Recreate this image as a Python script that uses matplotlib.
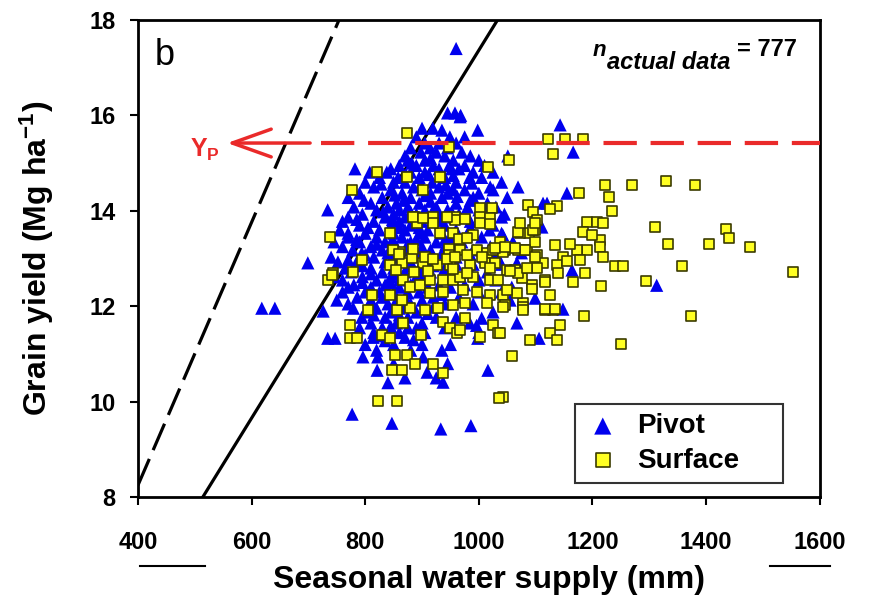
import matplotlib
matplotlib.use('Agg')
import matplotlib.pyplot as plt

plt.rcParams['font.family'] = ['Liberation Sans', 'DejaVu Sans']
plt.rcParams['mathtext.fontset'] = 'custom'
plt.rcParams['mathtext.rm'] = 'Liberation Sans'
plt.rcParams['mathtext.bf'] = 'Liberation Sans:bold'
plt.rcParams['mathtext.it'] = 'Liberation Sans:italic'

### Pivot irrigated fields (seasonal water supply mm, grain yield Mg/ha)
pivot = [
    (960, 17.4), (945, 16.05), (958, 16.05), (968, 16.0), (967, 15.97), (1143, 15.8),
    (900, 15.73), (919, 15.73), (998, 15.69), (935, 15.69), (949, 15.55), (890, 15.55),
    (975, 15.55), (905, 15.42), (930, 15.42), (960, 15.42), (914, 15.32), (880, 15.32),
    (945, 15.32), (1166, 15.23), (970, 15.23), (898, 15.23), (925, 15.23), (1051, 15.15),
    (870, 15.15), (940, 15.15), (985, 15.15), (875, 15.06), (905, 15.06), (955, 15.06),
    (1000, 15.06), (860, 14.95), (890, 14.95), (920, 14.95), (948, 14.95), (975, 14.95),
    (1010, 14.95), (782, 14.88), (845, 14.88), (930, 14.88), (965, 14.88), (808, 14.81),
    (838, 14.81), (880, 14.81), (905, 14.81), (990, 14.81), (1025, 14.81), (825, 14.7),
    (858, 14.7), (895, 14.7), (940, 14.7), (984, 14.7), (1005, 14.7), (800, 14.6),
    (850, 14.6), (870, 14.6), (918, 14.6), (960, 14.6), (1040, 14.6), (1069, 14.5),
    (815, 14.5), (885, 14.5), (930, 14.5), (1020, 14.5), (845, 14.44), (900, 14.44),
    (955, 14.44), (1025, 14.44), (975, 14.44), (1155, 14.37), (790, 14.37), (865, 14.37),
    (915, 14.37), (945, 14.37), (1000, 14.37), (770, 14.28), (830, 14.28), (880, 14.28),
    (935, 14.28), (990, 14.28), (1050, 14.28), (1113, 14.16), (1120, 14.16), (810, 14.16),
    (855, 14.16), (895, 14.16), (960, 14.16), (1015, 14.16), (780, 14.08), (840, 14.08),
    (875, 14.08), (925, 14.08), (980, 14.08), (1030, 14.08), (734, 14.02), (820, 14.02),
    (860, 14.02), (905, 14.02), (945, 14.02), (1000, 14.02), (795, 13.93), (850, 13.93),
    (890, 13.93), (930, 13.93), (965, 13.93), (1045, 13.93), (1040, 13.87), (770, 13.87),
    (835, 13.87), (870, 13.87), (915, 13.87), (955, 13.87), (760, 13.78), (815, 13.78),
    (860, 13.78), (900, 13.78), (985, 13.78), (1010, 13.78), (790, 13.7), (845, 13.7),
    (880, 13.7), (940, 13.7), (1025, 13.7), (1019, 13.6), (755, 13.6), (825, 13.6),
    (870, 13.6), (910, 13.6), (960, 13.6), (1111, 13.66), (1040, 13.53), (1042, 13.5),
    (770, 13.53), (800, 13.53), (850, 13.53), (895, 13.53), (935, 13.53), (990, 13.53),
    (770, 13.45), (820, 13.45), (865, 13.45), (905, 13.45), (950, 13.45), (1005, 13.45),
    (745, 13.35), (790, 13.35), (835, 13.35), (880, 13.35), (925, 13.35), (970, 13.35),
    (1060, 13.35), (760, 13.25), (810, 13.25), (855, 13.25), (900, 13.25), (960, 13.25),
    (1020, 13.25), (778, 13.18), (830, 13.18), (870, 13.18), (915, 13.18), (945, 13.18),
    (990, 13.18), (794, 13.12), (840, 13.12), (885, 13.12), (935, 13.12), (1030, 13.12),
    (1075, 13.12), (740, 13.03), (815, 13.03), (860, 13.03), (905, 13.03), (960, 13.03),
    (1010, 13.03), (752, 12.93), (699, 12.91), (785, 12.93), (835, 12.93), (880, 12.93),
    (925, 12.93), (1067, 12.91), (960, 12.88), (990, 12.88), (1040, 12.88), (765, 12.8),
    (810, 12.8), (850, 12.8), (895, 12.8), (940, 12.8), (1164, 12.76), (775, 12.72),
    (830, 12.72), (870, 12.72), (915, 12.72), (985, 12.72), (1015, 12.72), (745, 12.62),
    (795, 12.62), (845, 12.62), (890, 12.62), (945, 12.62), (760, 12.55), (820, 12.55),
    (860, 12.55), (905, 12.55), (1000, 12.55), (1030, 12.55), (1313, 12.44), (780, 12.45),
    (835, 12.45), (880, 12.45), (930, 12.45), (975, 12.45), (770, 12.4), (1058, 12.4),
    (810, 12.4), (860, 12.4), (910, 12.4), (950, 12.4), (760, 12.3), (800, 12.3),
    (850, 12.3), (895, 12.3), (1000, 12.3), (1040, 12.3), (786, 12.19), (830, 12.19),
    (870, 12.19), (920, 12.19), (965, 12.19), (1099, 12.17), (1055, 12.13), (750, 12.13),
    (810, 12.13), (855, 12.13), (900, 12.13), (770, 12.05), (840, 12.05), (880, 12.05),
    (940, 12.05), (990, 12.05), (618, 11.96), (641, 11.96), (779, 11.96), (820, 11.96),
    (860, 11.96), (905, 11.96), (1148, 11.94), (726, 11.9), (800, 11.88), (845, 11.88),
    (890, 11.88), (1025, 11.88), (794, 11.77), (835, 11.77), (875, 11.77), (925, 11.77),
    (960, 11.77), (1005, 11.75), (984, 11.65), (996, 11.6), (1067, 11.65), (810, 11.65),
    (855, 11.65), (900, 11.65), (790, 11.55), (830, 11.55), (875, 11.55), (940, 11.55),
    (815, 11.45), (860, 11.45), (905, 11.45), (1000, 11.45), (734, 11.33), (747, 11.33),
    (814, 11.35), (826, 11.38), (998, 11.33), (1106, 11.33), (870, 11.35), (800, 11.2),
    (850, 11.2), (900, 11.2), (950, 11.2), (820, 11.08), (880, 11.08), (935, 11.08),
    (796, 10.94), (822, 10.94), (902, 10.94), (850, 10.8), (945, 10.8), (821, 10.66),
    (909, 10.62), (1016, 10.66), (870, 10.5), (925, 10.5), (840, 10.4), (937, 10.41),
    (777, 9.74), (847, 9.55), (933, 9.43), (986, 9.5),
    # denser core
    (882, 15.0), (915, 15.1), (952, 14.88), (872, 14.76), (912, 14.76), (955, 14.74),
    (828, 14.56), (898, 14.56), (942, 14.55), (988, 14.58), (852, 14.33), (905, 14.32),
    (962, 14.3), (798, 14.22), (868, 14.22), (915, 14.2), (985, 14.22), (832, 13.98),
    (880, 13.98), (918, 13.98), (952, 13.98), (1010, 13.98), (785, 13.82), (848, 13.82),
    (885, 13.82), (930, 13.8), (805, 13.65), (860, 13.65), (895, 13.65), (985, 13.65),
    (785, 13.4), (848, 13.4), (890, 13.4), (940, 13.4), (820, 13.3), (875, 13.3),
    (942, 13.3), (800, 13.08), (850, 13.08), (895, 13.08), (985, 13.08), (770, 12.98),
    (865, 12.98), (912, 12.98), (795, 12.85), (875, 12.85), (920, 12.85), (810, 12.68),
    (855, 12.68), (900, 12.68), (795, 12.5), (845, 12.5), (890, 12.5), (825, 12.3),
    (875, 12.28), (935, 12.25), (815, 12.0), (865, 12.0), (920, 11.98), (815, 11.82),
    (860, 11.82), (910, 11.85), (845, 11.58), (890, 11.55), (835, 11.28), (885, 11.3),
]

### Surface irrigated fields
surface = [
    (1122, 15.5), (1151, 15.5), (1183, 15.5), (873, 15.63), (947, 15.34), (1130, 15.19),
    (1053, 15.06), (1016, 14.92), (821, 14.81), (873, 14.71), (931, 14.71), (777, 14.44),
    (902, 14.44), (1222, 14.54), (1269, 14.54), (1329, 14.62), (1380, 14.54), (1176, 14.37),
    (1229, 14.29), (1234, 14.0), (1137, 14.1), (1125, 14.04), (1086, 14.12), (1095, 13.98),
    (1310, 13.66), (1435, 13.62), (1440, 13.43), (1333, 13.3), (1405, 13.3), (1477, 13.24),
    (1553, 12.72), (1357, 12.84), (1294, 12.53), (1215, 12.42), (1373, 11.79), (1250, 11.22),
    (1185, 11.79), (1058, 10.96), (1042, 10.1), (738, 13.45), (843, 13.53), (887, 13.87),
    (919, 13.87), (958, 13.87), (1002, 14.06), (1023, 14.06), (1190, 13.77), (1208, 13.77),
    (1218, 13.74), (1183, 13.56), (1213, 13.39), (1213, 13.24), (1218, 13.03), (1190, 13.18),
    (1173, 13.18), (1178, 12.97), (1187, 12.7), (1239, 12.84), (1253, 12.84), (1148, 13.03),
    (1134, 13.28), (1137, 12.86), (1139, 12.7), (1116, 12.55), (1125, 12.23), (1116, 11.92),
    (1130, 11.92), (1143, 11.61), (1125, 11.44), (1137, 11.29), (1077, 12.07), (1093, 12.44),
    (1088, 13.53), (1099, 13.6), (1072, 13.53), (1037, 13.35), (1037, 13.18), (794, 12.97),
    (778, 12.72), (743, 12.7), (734, 12.55), (741, 12.65), (843, 12.86), (861, 13.14),
    (865, 12.91), (882, 13.01), (902, 12.91), (927, 12.86), (949, 12.86), (931, 13.53),
    (954, 13.53), (891, 13.74), (919, 13.74), (947, 13.2), (947, 13.07), (866, 12.55),
    (879, 12.4), (896, 12.44), (914, 12.55), (937, 12.55), (954, 12.55), (812, 12.23),
    (843, 12.23), (856, 11.92), (879, 11.96), (905, 11.92), (928, 11.96), (805, 11.92),
    (773, 11.61), (773, 11.33), (785, 11.33), (829, 11.4), (843, 11.33), (866, 11.65),
    (899, 11.4), (937, 11.67), (949, 11.55), (961, 11.45), (852, 10.98), (873, 10.98),
    (847, 10.66), (865, 10.66), (887, 10.79), (919, 10.79), (937, 10.6), (822, 10.01),
    (856, 10.01), (1035, 10.08), (990, 13.49), (997, 13.18), (967, 13.18), (1014, 13.12),
    (1025, 13.18), (1046, 13.18), (1069, 13.18), (1084, 13.18), (1102, 13.07), (984, 12.86),
    (1011, 12.91), (1028, 12.91), (1049, 12.76), (1063, 12.76), (1113, 12.91), (1102, 12.8),
    (1076, 12.59), (1116, 12.5), (967, 12.61), (990, 12.61), (1019, 12.55), (1033, 12.55),
    (972, 12.34), (997, 12.3), (1019, 12.23), (1042, 12.23), (1067, 12.28), (1093, 12.36),
    (975, 12.07), (1014, 12.07), (1046, 12.03), (1077, 11.98), (1116, 11.94), (1134, 11.94),
    (975, 11.75), (1025, 11.61), (1033, 11.44), (1002, 11.35), (967, 11.5), (1090, 11.29),
    (1102, 13.81), (1095, 13.6), (1069, 13.56), (1099, 13.35), (1081, 13.18), (1063, 13.22),
    (1042, 13.14), (1099, 13.03), (1069, 12.7), (1049, 12.34), (1042, 11.98), (1077, 11.92),
    (1037, 11.44), (1002, 13.87), (1019, 13.85), (1002, 13.74), (1019, 13.72), (1072, 13.74),
    (1099, 13.74), (914, 12.28), (937, 12.3), (865, 12.13), (954, 12.03), (958, 13.8),
    (965, 13.4), (884, 13.87), (902, 13.85), (944, 13.87), (975, 13.82), (979, 13.43),
    (849, 13.18), (859, 13.1), (884, 13.2), (905, 13.03), (919, 13.0), (944, 13.0),
    (958, 13.03), (979, 13.07), (1005, 13.03), (1028, 13.22), (1046, 13.25), (855, 12.75),
    (885, 12.72), (910, 12.74), (955, 12.78), (980, 12.7), (1020, 12.8), (1055, 12.74),
    (1085, 12.8), (1160, 13.3), (1155, 12.95), (1165, 12.5), (1200, 13.5),
]

### Boundary lines and potential yield
solid_x, solid_y = [514, 1033], [8, 18]
dashed_x, dashed_y = [400, 754], [8.25, 18]
yp = 15.42

pivot_x, pivot_y = zip(*pivot)
surface_x, surface_y = zip(*surface)

fig = plt.figure(figsize=(8.73, 6.02), dpi=100)
ax = fig.add_axes([0.158, 0.174, 0.781, 0.793])

ax.plot(dashed_x, dashed_y, color='black', lw=2.3, dashes=(9, 3), zorder=1)
ax.plot(solid_x, solid_y, color='black', lw=2.3, zorder=1)

ax.scatter(pivot_x, pivot_y, marker='^', s=90, color='#0000ee', edgecolors='none',
           label='Pivot', zorder=2)
ax.scatter(surface_x, surface_y, marker='s', s=62, color='#ffff22', edgecolors='#3b3b00',
           linewidths=1.2, label='Surface', zorder=3)

### Potential yield line and arrow
ax.plot([723, 1600], [yp, yp], color='#ea2a2a', lw=3, dashes=(8, 3.3), zorder=4)
ax.annotate('', xy=(557, yp), xytext=(703, yp),
            arrowprops=dict(arrowstyle='->,head_length=1.4,head_width=0.5',
                            color='#ea2a2a', lw=2.5, mutation_scale=20,
                            shrinkA=0, shrinkB=0), zorder=4)
ax.text(0.077, 0.728, r'Y$_\mathregular{P}$', transform=ax.transAxes, color='#ea2a2a',
        fontsize=18, fontweight='bold', va='center')

ax.text(0.024, 0.925, 'b', transform=ax.transAxes, fontsize=26, va='center')
ax.text(0.667, 0.935, 'n', transform=ax.transAxes, fontsize=16, fontweight='bold',
        fontstyle='italic', va='center')
ax.text(0.688, 0.91, 'actual data', transform=ax.transAxes, fontsize=17,
        fontweight='bold', fontstyle='italic', va='center')
ax.text(0.878, 0.938, '= 777', transform=ax.transAxes, fontsize=17, fontweight='bold',
        va='center')

ax.set_xlim(400, 1600)
ax.set_ylim(8, 18)
ax.set_xticks(range(400, 1601, 200))
ax.set_yticks(range(8, 19, 2))
ax.tick_params(direction='out', length=6, width=1.5, labelsize=17)
ax.tick_params(axis='x', pad=18)
ax.tick_params(axis='y', pad=10)
for lab in ax.get_xticklabels() + ax.get_yticklabels():
    lab.set_fontweight('bold')
for sp in ax.spines.values():
    sp.set_linewidth(2)

ax.set_ylabel(r'Grain yield (Mg ha$^{\mathbf{-1}}$)', fontsize=23, fontweight='bold',
              labelpad=24)

### piece of the next panel showing below
fig.add_artist(plt.Line2D([0.160, 0.235], [0.06, 0.06], color='black', lw=1.5))
fig.add_artist(plt.Line2D([0.882, 0.951], [0.06, 0.06], color='black', lw=1.5))
fig.text(0.56, 0.036, 'Seasonal water supply (mm)', fontsize=23, fontweight='bold',
         ha='center', va='center')

leg = ax.legend(loc='lower left', bbox_to_anchor=(0.641, 0.029, 0.305, 0.168),
                mode='expand', borderaxespad=0,
                prop={'weight': 'bold', 'size': 20}, frameon=True, fancybox=False,
                borderpad=0.35, handletextpad=0.6, markerscale=1.3, labelspacing=0.3,
                handlelength=1.3)
leg.get_frame().set_edgecolor('black')
leg.get_frame().set_linewidth(1.5)

fig.savefig('out.png', dpi=100)
